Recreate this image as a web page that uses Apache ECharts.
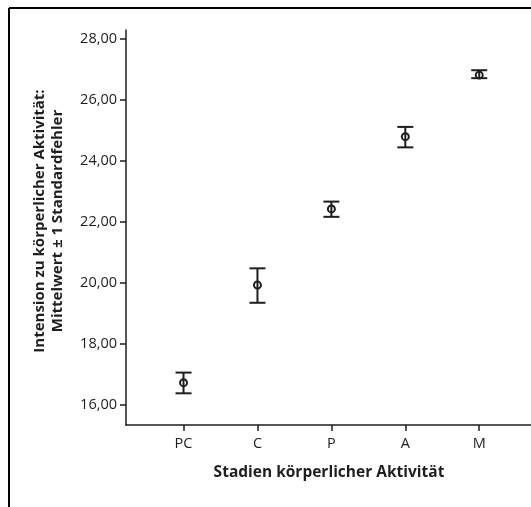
<!DOCTYPE html>
<html>
<head>
<meta charset="utf-8">
<script src="https://cdn.jsdelivr.net/npm/echarts@6/dist/echarts.min.js"></script>
<style>
    html, body { margin: 0; padding: 0; background: #fff; }
    #chart { width: 531px; height: 507px; }
</style>
</head>
<body>
<div id="chart"></div>
<script>
// stages of physical activity
var categories = ['PC', 'C', 'P', 'A', 'M'];
var means = [16.73, 19.93, 22.43, 24.80, 26.82];
var lowers = [16.38, 19.35, 22.17, 24.45, 26.72];
var uppers = [17.06, 20.48, 22.67, 25.12, 26.98];
var yTicks = [16, 18, 20, 22, 24, 26, 28];
var xTicks = [1, 2, 3, 4, 5];

var ink = '#1e1e1e';
var font = 'Open Sans';

function fmtDe(v) {
    return v.toFixed(2).replace('.', ',');
}

var barData = [];
for (var i = 0; i < categories.length; i++) {
    barData.push([i + 1, means[i], lowers[i], uppers[i]]);
}

function renderErrorBar(params, api) {
    var x = api.value(0);
    var mid = api.coord([x, api.value(1)]);
    var lo = api.coord([x, api.value(2)]);
    var hi = api.coord([x, api.value(3)]);
    var half = 8;
    var st = { stroke: ink, lineWidth: 2, fill: null };
    return {
        type: 'group',
        children: [
            { type: 'line', shape: { x1: lo[0], y1: lo[1], x2: hi[0], y2: hi[1] }, style: st },
            { type: 'line', shape: { x1: hi[0] - half, y1: hi[1], x2: hi[0] + half, y2: hi[1] }, style: st },
            { type: 'line', shape: { x1: lo[0] - half, y1: lo[1], x2: lo[0] + half, y2: lo[1] }, style: st },
            { type: 'circle', shape: { cx: mid[0], cy: mid[1], r: 3.5 }, style: st }
        ]
    };
}

var dom = document.getElementById('chart');
var myChart = echarts.init(dom);

var option = {
    animation: false,
    backgroundColor: '#fff',
    grid: { left: 126, top: 30, right: 0, bottom: 82 },
    graphic: [
        { type: 'line', shape: { x1: 9, y1: 8, x2: 531, y2: 8 }, style: { stroke: '#000', lineWidth: 2 } },
        { type: 'line', shape: { x1: 9, y1: 8, x2: 9, y2: 507 }, style: { stroke: '#000', lineWidth: 2 } },
        {
            type: 'text', x: 329, y: 473,
            style: {
                text: 'Stadien körperlicher Aktivität', font: 'bold 15.5px "Open Sans"', fill: ink,
                align: 'center', verticalAlign: 'middle'
            }
        },
        {
            type: 'text', x: 49, y: 221, rotation: Math.PI / 2,
            style: {
                text: 'Intension zu körperlicher Aktivität:\nMittelwert ± 1 Standardfehler',
                font: 'bold 15px "Open Sans"', fill: ink, align: 'center', verticalAlign: 'middle',
                lineHeight: 18
            }
        }
    ],
    xAxis: {
        type: 'value',
        min: 0.222,
        max: 5.70,
        splitLine: { show: false },
        axisLine: { show: true, lineStyle: { color: ink, width: 1.5 } },
        axisTick: { show: true, length: 6, customValues: xTicks, lineStyle: { color: ink, width: 1.5 } },
        axisLabel: {
            customValues: xTicks, color: ink, fontFamily: font, fontSize: 14.5, margin: 11,
            formatter: function (v) { return categories[Math.round(v) - 1]; }
        }
    },
    yAxis: {
        type: 'value',
        min: 15.34,
        max: 28.3,
        splitLine: { show: false },
        axisLine: { show: true, lineStyle: { color: ink, width: 1.5 } },
        axisTick: { show: true, length: 6, customValues: yTicks, lineStyle: { color: ink, width: 1.5 } },
        axisLabel: {
            customValues: yTicks, color: ink, fontFamily: font, fontSize: 14.5, margin: 9,
            formatter: fmtDe
        }
    },
    series: [
        {
            type: 'custom',
            renderItem: renderErrorBar,
            encode: { x: 0, y: [1, 2, 3] },
            data: barData
        }
    ]
};

myChart.setOption(option, true);
</script>
</body>
</html>
